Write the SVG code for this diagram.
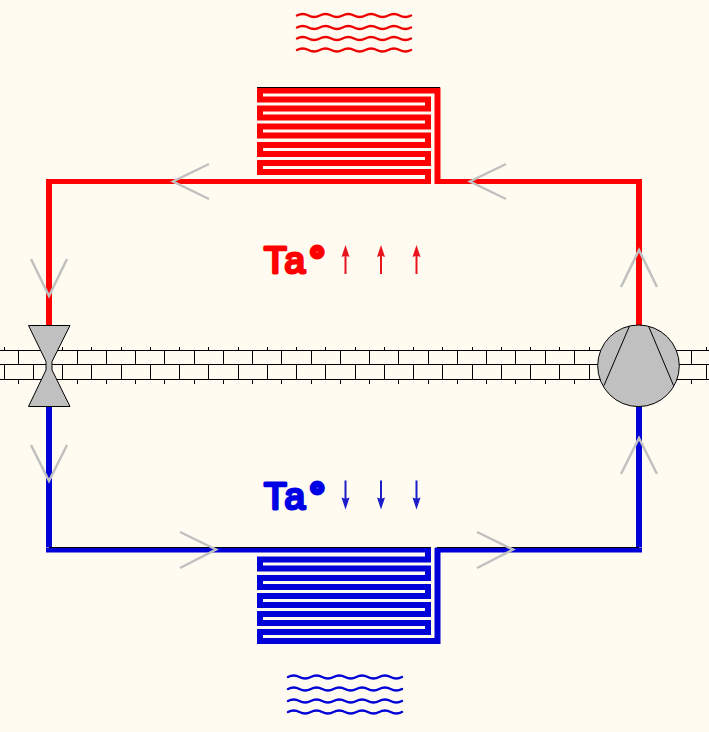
<svg xmlns="http://www.w3.org/2000/svg" xmlns:xlink="http://www.w3.org/1999/xlink" width="709" height="732" viewBox="0 0 709 732">
<style>
.bg{fill:#fffbf0}
.r{fill:none;stroke:#ff0000;stroke-linejoin:miter}
.b{fill:none;stroke:#0000d8;stroke-linejoin:miter}
.w{stroke-width:2.500;fill:none;stroke-linecap:round}
.chev{fill:none;stroke:#c0c0c0;stroke-width:2.5}
.dev{fill:#c0c0c0;stroke:#000;stroke-width:1}
.brick{fill:none;stroke:#000;stroke-width:1}
.lab{font-family:"Liberation Sans",Arial,sans-serif;font-weight:normal;font-size:37px;stroke-width:3;stroke-linejoin:round;letter-spacing:2px}
.deg{font-size:36px;stroke-width:5}
</style>
<defs>
<path id="wave" d="M0 0q5.700 -2.800 11.400 0q5.700 2.800 11.400 0q5.700 -2.800 11.400 0q5.700 2.800 11.400 0q5.700 -2.800 11.400 0q5.700 2.800 11.400 0q5.700 -2.800 11.400 0q5.700 2.800 11.400 0q5.700 -2.800 11.400 0q5.700 2.800 11.400 0"/>
<path id="up" d="M0 -14.500L4 -2.500L1 -3.500V14.500H-1V-3.500L-4 -2.500Z"/>
</defs>
<rect class="bg" width="709" height="732"/>
<g id="wall">
<path class="brick" d="M0 350.500H709M0 364.500H709M0 379.500H709"/>
<path class="brick" d="M18.500 350V364M47.500 350V364M77.500 350V364M106.500 350V364M135.500 350V364M164.500 350V364M194.500 350V364M223.500 350V364M252.500 350V364M281.500 350V364M311.500 350V364M340.500 350V364M369.500 350V364M398.500 350V364M428.500 350V364M457.500 350V364M486.500 350V364M515.500 350V364M545.500 350V364M574.500 350V364M691.500 350V364"/>
<path class="brick" d="M4.500 364V379M33.500 364V379M62.500 364V379M91.500 364V379M121.500 364V379M150.500 364V379M179.500 364V379M208.500 364V379M238.500 364V379M267.500 364V379M296.500 364V379M325.500 364V379M355.500 364V379M384.500 364V379M413.500 364V379M442.500 364V379M472.500 364V379M501.500 364V379M530.500 364V379M559.500 364V379M589.500 364V379M706.500 364V379"/>
<path class="brick" d="M4.500 347V350M62.500 347V350M91.500 347V350M121.500 347V350M150.500 347V350M179.500 347V350M208.500 347V350M238.500 347V350M267.500 347V350M296.500 347V350M325.500 347V350M355.500 347V350M384.500 347V350M413.500 347V350M442.500 347V350M472.500 347V350M501.500 347V350M530.500 347V350M559.500 347V350M589.500 347V350M706.500 347V350"/>
<path class="brick" d="M18.500 379V384M77.500 379V384M106.500 379V384M135.500 379V384M164.500 379V384M194.500 379V384M223.500 379V384M252.500 379V384M281.500 379V384M311.500 379V384M340.500 379V384M369.500 379V384M398.500 379V384M428.500 379V384M457.500 379V384M486.500 379V384M515.500 379V384M545.500 379V384M574.500 379V384M691.500 379V384"/>
</g>
<g id="connectors">
<path class="r" stroke-width="6" d="M639 326V184"/>
<path class="r" stroke-width="5" d="M642 181.500H435"/>
<path class="r" stroke-width="6" d="M49 326V184"/>
<path class="r" stroke-width="5" d="M46 181.500H431"/>
<path class="b" stroke-width="6" d="M639 406V547"/>
<path class="b" stroke-width="5" d="M642 550H435"/>
<path class="b" stroke-width="6" d="M49 406V547"/>
<path class="b" stroke-width="5" d="M46 550H431"/>
<path fill="none" stroke="#000" stroke-width="1" d="M49 547.500H431M437 547.500H639"/>
</g>
<g id="condenser">
<path class="r" stroke-width="6" d="M437.500 184V90.500H260V99.500H428V108.500H260V117.500H428V126.500H260V135.500H428V145H260V154H428V163H260V172H428V184"/>
<path fill="none" stroke="#000" stroke-width="1" d="M257 87.500H440"/>
</g>
<g id="evaporator">
<path class="b" stroke-width="6" d="M437.500 548V641H260V632H428V623H260V614H428V605H260V596H428V587H260V578H428V568.500H260V559.500H428V548"/>
</g>
<g id="heat-out" class="w" stroke="#ee0000">
<use xlink:href="#wave" x="297" y="15.500"/>
<use xlink:href="#wave" x="297" y="27.500"/>
<use xlink:href="#wave" x="297" y="38.500"/>
<use xlink:href="#wave" x="297" y="50"/>
</g>
<g id="heat-in" class="w" stroke="#0000d8">
<use xlink:href="#wave" x="288" y="677"/>
<use xlink:href="#wave" x="288" y="689"/>
<use xlink:href="#wave" x="288" y="701"/>
<use xlink:href="#wave" x="288" y="712"/>
</g>
<g id="valve"><path class="dev" d="M28.500 325.500H70L52 361.500V370L70 406.500H28.500L46 370V361.500Z"/></g>
<g id="compressor">
<circle class="dev" cx="638.500" cy="365.800" r="40.800"/>
<path fill="none" stroke="#000" stroke-width="1" d="M629.500 326L604 385.500M648.500 326L673.500 385.500"/>
</g>
<g id="flow-arrows">
<path class="chev" d="M506 164L470 181.500L506 199"/>
<path class="chev" d="M209 164L173 181.500L209 199"/>
<path class="chev" d="M31 259L49 296L67 259"/>
<path class="chev" d="M31 445L49 481L67 445"/>
<path class="chev" d="M621 287L639 250L657 287"/>
<path class="chev" d="M621 474L639 438L657 474"/>
<path class="chev" d="M180 532L216 549.500L180 568"/>
<path class="chev" d="M477 532L513 549.500L477 568"/>
</g>
<g id="label-warm">
<text class="lab" x="264" y="273" fill="#ff0000" stroke="#ff0000">Ta<tspan class="deg" dx="3">°</tspan></text>
<g fill="#e8141e"><use xlink:href="#up" x="345.500" y="259.500"/><use xlink:href="#up" x="381" y="259.500"/><use xlink:href="#up" x="416.500" y="259.500"/></g>
</g>
<g id="label-cold">
<text class="lab" x="264" y="509" fill="#0000e6" stroke="#0000e6">Ta<tspan class="deg" dx="3">°</tspan></text>
<g fill="#1c1cc8"><use xlink:href="#up" transform="translate(345.500 495) scale(1 -1)"/><use xlink:href="#up" transform="translate(381 495) scale(1 -1)"/><use xlink:href="#up" transform="translate(416.500 495) scale(1 -1)"/></g>
</g>
</svg>
